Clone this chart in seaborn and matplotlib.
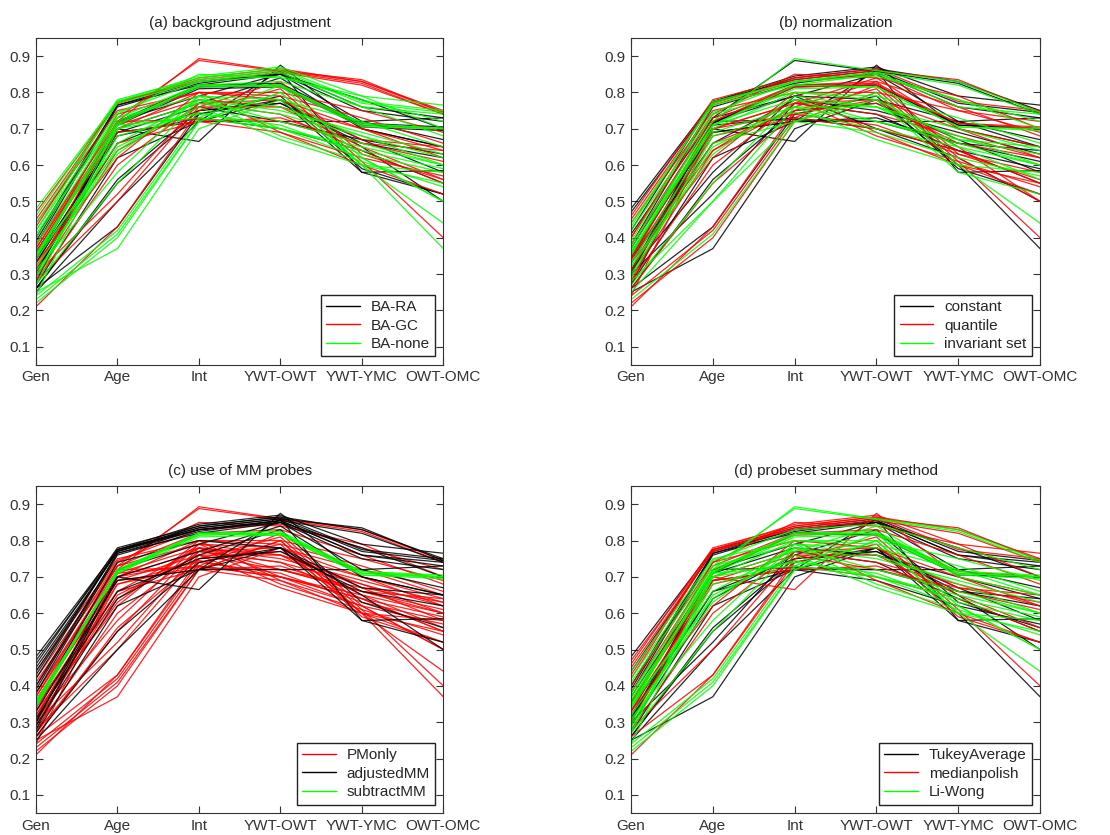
import pandas as pd
import matplotlib
matplotlib.use('Agg')
import matplotlib.pyplot as plt
import seaborn as sns

contrasts = ['Gen', 'Age', 'Int', 'YWT-OWT', 'YWT-YMC', 'OWT-OMC']

# one profile per preprocessing combination
profiles = [
    # subtractMM
    [0.35, 0.715, 0.815, 0.82, 0.71, 0.70],
    [0.34, 0.72, 0.82, 0.825, 0.715, 0.705],
    [0.36, 0.71, 0.81, 0.815, 0.705, 0.695],
    [0.345, 0.715, 0.82, 0.82, 0.71, 0.70],
    [0.35, 0.72, 0.815, 0.82, 0.715, 0.70],
    [0.355, 0.71, 0.82, 0.815, 0.705, 0.70],
    # adjustedMM
    [0.48, 0.775, 0.835, 0.86, 0.77, 0.745],
    [0.46, 0.78, 0.84, 0.865, 0.775, 0.75],
    [0.44, 0.77, 0.83, 0.855, 0.76, 0.74],
    [0.42, 0.775, 0.845, 0.87, 0.79, 0.765],
    [0.40, 0.765, 0.83, 0.85, 0.75, 0.72],
    [0.38, 0.76, 0.825, 0.855, 0.76, 0.73],
    [0.45, 0.77, 0.835, 0.86, 0.835, 0.745],
    [0.43, 0.775, 0.83, 0.855, 0.82, 0.74],
    [0.47, 0.77, 0.84, 0.865, 0.83, 0.75],
    [0.39, 0.765, 0.82, 0.85, 0.78, 0.70],
    [0.30, 0.72, 0.79, 0.85, 0.72, 0.67],
    [0.28, 0.70, 0.77, 0.84, 0.70, 0.65],
    [0.30, 0.70, 0.665, 0.875, 0.70, 0.65],
    [0.27, 0.62, 0.72, 0.86, 0.58, 0.585],
    [0.25, 0.50, 0.72, 0.78, 0.58, 0.52],
    [0.26, 0.55, 0.74, 0.78, 0.65, 0.50],
    [0.29, 0.64, 0.76, 0.83, 0.63, 0.56],
    [0.33, 0.69, 0.72, 0.72, 0.72, 0.73],
    [0.35, 0.74, 0.80, 0.78, 0.67, 0.65],
    [0.31, 0.66, 0.75, 0.77, 0.66, 0.62],
    # PMonly
    [0.25, 0.37, 0.70, 0.78, 0.60, 0.37],
    [0.23, 0.41, 0.72, 0.80, 0.60, 0.44],
    [0.24, 0.42, 0.73, 0.82, 0.62, 0.50],
    [0.26, 0.43, 0.74, 0.79, 0.59, 0.52],
    [0.22, 0.40, 0.72, 0.80, 0.60, 0.55],
    [0.21, 0.43, 0.75, 0.81, 0.61, 0.40],
    [0.28, 0.50, 0.76, 0.76, 0.65, 0.56],
    [0.30, 0.52, 0.77, 0.74, 0.64, 0.55],
    [0.27, 0.55, 0.78, 0.72, 0.66, 0.60],
    [0.31, 0.58, 0.79, 0.70, 0.62, 0.50],
    [0.33, 0.62, 0.80, 0.69, 0.60, 0.52],
    [0.35, 0.64, 0.78, 0.68, 0.61, 0.54],
    [0.30, 0.65, 0.76, 0.67, 0.60, 0.58],
    [0.32, 0.66, 0.72, 0.69, 0.62, 0.57],
    [0.34, 0.68, 0.73, 0.70, 0.64, 0.55],
    [0.36, 0.69, 0.72, 0.73, 0.66, 0.61],
    [0.38, 0.72, 0.893, 0.86, 0.83, 0.745],
    [0.37, 0.73, 0.888, 0.858, 0.825, 0.74],
    [0.40, 0.74, 0.85, 0.84, 0.79, 0.70],
    [0.42, 0.745, 0.83, 0.845, 0.78, 0.72],
    [0.44, 0.75, 0.80, 0.80, 0.75, 0.69],
    [0.41, 0.73, 0.79, 0.78, 0.72, 0.65],
    [0.37, 0.71, 0.78, 0.76, 0.70, 0.64],
    [0.35, 0.70, 0.77, 0.74, 0.68, 0.62],
    [0.33, 0.69, 0.76, 0.72, 0.67, 0.63],
    [0.29, 0.68, 0.745, 0.70, 0.65, 0.60],
    [0.31, 0.72, 0.725, 0.72, 0.66, 0.64],
    [0.27, 0.71, 0.73, 0.70, 0.64, 0.59],
    [0.24, 0.70, 0.74, 0.71, 0.63, 0.58],
    [0.28, 0.60, 0.77, 0.78, 0.70, 0.62],
    [0.32, 0.63, 0.79, 0.76, 0.68, 0.60],
    [0.26, 0.56, 0.75, 0.77, 0.67, 0.58],
    [0.36, 0.70, 0.80, 0.79, 0.73, 0.66],
    [0.38, 0.73, 0.82, 0.83, 0.76, 0.68],
    [0.34, 0.66, 0.78, 0.75, 0.69, 0.63],
]

ba = ['BA-RA', 'BA-RA', 'BA-RA', 'BA-none', 'BA-none', 'BA-none',
      'BA-none', 'BA-none', 'BA-none', 'BA-none', 'BA-RA', 'BA-RA', 'BA-GC', 'BA-GC', 'BA-GC', 'BA-RA',
      'BA-RA', 'BA-RA', 'BA-RA', 'BA-RA', 'BA-RA', 'BA-RA', 'BA-GC', 'BA-RA', 'BA-GC', 'BA-RA',
      'BA-none', 'BA-none', 'BA-none', 'BA-RA', 'BA-none', 'BA-GC', 'BA-GC', 'BA-GC', 'BA-none', 'BA-none',
      'BA-GC', 'BA-none', 'BA-none', 'BA-GC', 'BA-RA', 'BA-GC', 'BA-GC', 'BA-GC', 'BA-none', 'BA-none',
      'BA-GC', 'BA-none', 'BA-GC', 'BA-none', 'BA-RA', 'BA-none', 'BA-GC', 'BA-none', 'BA-none',
      'BA-GC', 'BA-none', 'BA-RA', 'BA-GC', 'BA-none', 'BA-none']
norm = ['constant', 'quantile', 'invariant set', 'constant', 'quantile', 'invariant set',
        'constant', 'quantile', 'invariant set', 'constant', 'quantile', 'constant', 'quantile', 'invariant set', 'constant', 'invariant set',
        'constant', 'quantile', 'constant', 'constant', 'invariant set', 'quantile', 'quantile', 'constant', 'invariant set', 'quantile',
        'constant', 'invariant set', 'quantile', 'constant', 'quantile', 'quantile', 'invariant set', 'constant', 'invariant set', 'constant',
        'quantile', 'quantile', 'invariant set', 'invariant set', 'quantile', 'constant', 'invariant set', 'constant', 'quantile', 'invariant set',
        'quantile', 'constant', 'invariant set', 'quantile', 'invariant set', 'invariant set', 'constant', 'constant', 'quantile',
        'quantile', 'invariant set', 'constant', 'invariant set', 'quantile', 'constant']
mm = ['subtractMM'] * 6 + ['adjustedMM'] * 20 + ['PMonly'] * 35
summ = ['Li-Wong', 'Li-Wong', 'Li-Wong', 'Li-Wong', 'medianpolish', 'TukeyAverage',
        'TukeyAverage', 'medianpolish', 'TukeyAverage', 'medianpolish', 'TukeyAverage', 'TukeyAverage', 'medianpolish', 'medianpolish', 'medianpolish', 'TukeyAverage',
        'TukeyAverage', 'Li-Wong', 'medianpolish', 'TukeyAverage', 'TukeyAverage', 'TukeyAverage', 'TukeyAverage', 'TukeyAverage', 'medianpolish', 'TukeyAverage',
        'TukeyAverage', 'Li-Wong', 'Li-Wong', 'medianpolish', 'Li-Wong', 'medianpolish', 'medianpolish', 'TukeyAverage', 'Li-Wong', 'Li-Wong',
        'medianpolish', 'Li-Wong', 'Li-Wong', 'TukeyAverage', 'medianpolish', 'medianpolish', 'Li-Wong', 'Li-Wong', 'medianpolish', 'Li-Wong',
        'Li-Wong', 'Li-Wong', 'TukeyAverage', 'medianpolish', 'medianpolish', 'Li-Wong', 'TukeyAverage', 'Li-Wong', 'Li-Wong',
        'medianpolish', 'Li-Wong', 'TukeyAverage', 'Li-Wong', 'medianpolish', 'Li-Wong']

rows = []
for i, p in enumerate(profiles):
    for c, v in zip(contrasts, p):
        rows.append({'id': i, 'contrast': c, 'value': v, 'ba': ba[i], 'norm': norm[i],
                     'mm': mm[i], 'summ': summ[i]})
df = pd.DataFrame(rows)

sns.set_style('white')
plt.rcParams['font.family'] = ['Liberation Sans', 'DejaVu Sans']

panels = [
    ('ba', '(a) background adjustment', ['BA-RA', 'BA-GC', 'BA-none'], ['#000000', '#ff0000', '#00ff00']),
    ('norm', '(b) normalization', ['constant', 'quantile', 'invariant set'], ['#000000', '#ff0000', '#00ff00']),
    ('mm', '(c) use of MM probes', ['PMonly', 'adjustedMM', 'subtractMM'], ['#ff0000', '#000000', '#00ff00']),
    ('summ', '(d) probeset summary method', ['TukeyAverage', 'medianpolish', 'Li-Wong'], ['#000000', '#ff0000', '#00ff00']),
]
positions = [[0.0324, 0.563, 0.367, 0.3916], [0.5685, 0.563, 0.3685, 0.3916],
             [0.0324, 0.0263, 0.367, 0.3916], [0.5685, 0.0263, 0.3685, 0.3916]]

fig = plt.figure(figsize=(11.1, 8.35), dpi=100)
for (col, title, order, colors), pos in zip(panels, positions):
    ax = fig.add_axes(pos)
    sns.lineplot(data=df, x='contrast', y='value', hue=col, hue_order=order,
                 palette=colors, units='id', estimator=None, sort=False,
                 linewidth=0.9, alpha=0.85, ax=ax)
    ax.set_xlim(0, 5)
    ax.set_ylim(0.05, 0.95)
    ax.set_yticks([0.1, 0.2, 0.3, 0.4, 0.5, 0.6, 0.7, 0.8, 0.9])
    ax.set_yticklabels(['0.1', '0.2', '0.3', '0.4', '0.5', '0.6', '0.7', '0.8', '0.9'])
    ax.set_xticks(range(6))
    ax.set_xticklabels(contrasts)
    ax.tick_params(direction='in', length=5, width=0.8, labelsize=11, colors='#333333',
                   top=True, right=True, bottom=True, left=True, pad=4)
    for s in ax.spines.values():
        s.set_color('#333333')
        s.set_linewidth(0.8)
    ax.set_xlabel('')
    ax.set_ylabel('')
    ax.set_title(title, fontsize=11, pad=8, color='#222222')
    leg = ax.legend(loc='lower right', fontsize=11, frameon=True, fancybox=False,
                    edgecolor='#222222', framealpha=1, handlelength=2.2,
                    handletextpad=0.7, borderaxespad=0.55, borderpad=0.35,
                    labelspacing=0.3)
    leg.get_frame().set_linewidth(1.0)
    for line in leg.get_lines():
        line.set_linewidth(1.0)
        line.set_alpha(1)

plt.savefig('out.png', dpi=100)
